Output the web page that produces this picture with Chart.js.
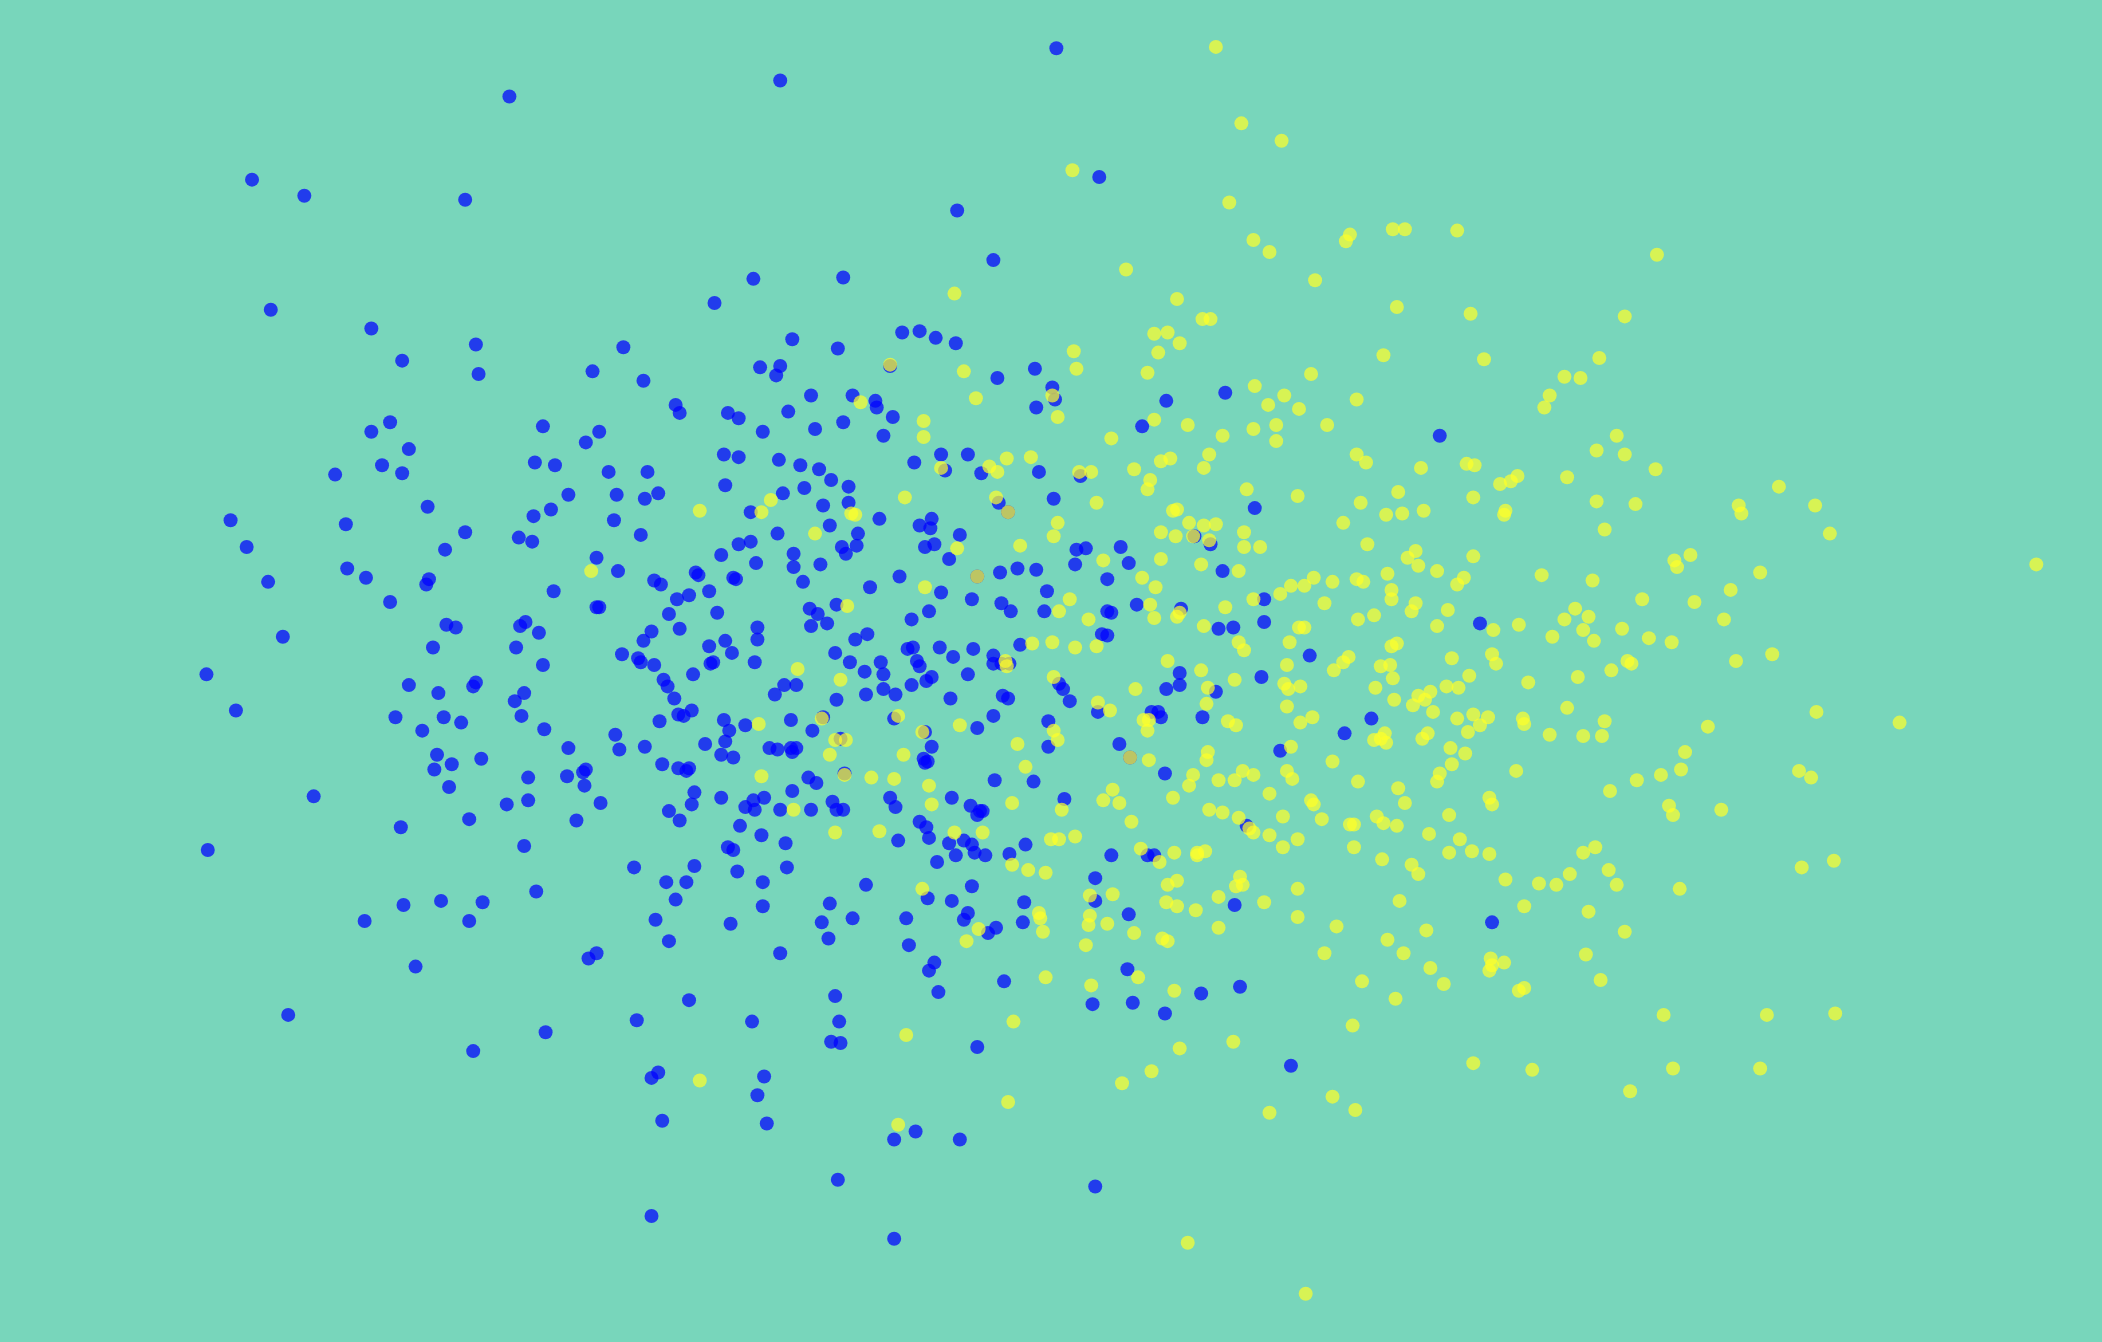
<!DOCTYPE html>
<html>
<head>
<meta charset="utf-8">
<title>Scatter</title>
<script src="https://cdn.jsdelivr.net/npm/chart.js@4"></script>
<style>
  html, body { margin: 0; padding: 0; background: #78d6bb; }
  /* the reference looks upscaled, edges are a bit soft */
  canvas { display: block; filter: blur(0.7px); }
</style>
</head>
<body>
<canvas id="grafica" width="2102" height="1342"></canvas>
<script>
// values, axes are hidden so the unit is arbitrary
const rangoX = [0, 1568];
const rangoY = [0, 1001];

const azules = [
[788,36],[582,60],[380,72],[188,134],[227,146],[347,149],[820,132],[714,157],[741,194],[562,208],[629,207],[533,226],[202,231],[277,245],[355,257],[300,269],[357,279],[465,259],[442,277],[480,284],[591,253],[625,260],[673,248],[686,247],[698,252],[713,256],[567,274],[582,273],[579,280],[664,273],[744,282],[772,275],[785,289],[787,298],[773,304],[870,299],[914,293],[605,295],[636,295],[653,299],[654,304],[666,311],[504,302],[507,308],[543,308],[551,312],[588,307],[629,315],[569,322],[608,320],[659,325],[852,318],[1074,325],[277,322],[291,315],[305,335],[405,318],[447,322],[437,330],[285,347],[300,353],[250,354],[399,345],[414,347],[454,352],[483,352],[540,339],[551,341],[581,343],[597,347],[611,350],[620,358],[633,363],[682,345],[702,339],[705,351],[722,339],[732,353],[775,352],[806,355],[541,362],[584,368],[600,364],[424,369],[460,369],[481,372],[491,368],[319,378],[398,385],[411,380],[458,388],[560,382],[614,377],[633,375],[656,387],[686,392],[695,387],[694,394],[745,375],[786,372],[752,382],[936,379],[172,388],[258,391],[347,397],[387,401],[397,404],[478,399],[580,398],[619,392],[640,398],[639,407],[690,408],[697,406],[716,399],[184,408],[332,410],[445,416],[551,406],[560,404],[538,414],[592,413],[628,408],[631,413],[612,421],[592,423],[564,420],[461,426],[708,417],[803,410],[810,409],[836,408],[802,421],[842,420],[891,400],[903,406],[259,424],[273,431],[200,434],[320,432],[318,436],[413,441],[488,433],[493,436],[519,427],[521,429],[547,431],[549,432],[599,434],[649,438],[671,430],[702,442],[729,430],[746,427],[759,424],[773,425],[781,441],[826,432],[912,426],[291,449],[447,453],[445,453],[505,447],[514,444],[529,441],[624,451],[604,454],[610,458],[693,456],[725,447],[747,450],[754,456],[779,456],[829,457],[826,456],[848,451],[881,454],[943,447],
[333,466],[340,468],[388,467],[392,464],[402,472],[211,475],[486,471],[499,458],[507,469],[535,457],[565,468],[565,477],[541,478],[480,478],[647,473],[638,477],[617,465],[605,467],[680,462],[741,489],[822,473],[826,474],[909,469],[920,468],[943,464],[1104,465],[761,481],
[323,483],[385,483],[464,488],[476,491],[478,494],[488,496],[405,496],[529,482],[546,487],[532,494],[530,495],[563,494],[623,487],[634,494],[645,501],[657,494],[659,503],[677,484],[681,483],[701,483],[684,493],[686,497],[711,490],[726,484],[741,495],[977,489],[753,495],
[154,503],[305,511],[353,512],[355,509],[495,507],[498,512],[517,503],[585,511],[594,511],[578,518],[659,514],[646,518],[668,518],[695,505],[691,508],[680,511],[722,503],[747,495],[790,510],[793,514],[941,505],[907,516],[880,502],[880,511],[870,514],[327,517],[391,517],[384,523],[503,521],
[176,530],[295,535],[331,535],[344,539],[389,534],[510,534],[516,530],[506,533],[492,538],[540,537],[556,541],[624,522],[590,537],[614,535],[667,536],[709,521],[748,519],[752,521],[741,534],[782,538],[798,523],[819,531],[859,531],[864,531],[866,535],[897,535],[1023,536],
[315,545],[406,544],[424,558],[459,548],[462,559],[481,557],[526,555],[541,553],[544,545],[580,559],[574,558],[590,558],[606,545],[627,551],[690,546],[695,557],[689,566],[690,569],[729,543],[782,557],[835,555],[955,560],[1003,547],
[326,563],[324,574],[337,570],[359,566],[437,574],[435,576],[423,579],[494,570],[506,573],[514,573],[512,575],[538,563],[547,565],[591,561],[594,558],[603,580],[609,584],[630,577],[692,568],[742,582],[771,583],[869,577],[843,565],
[335,587],[394,580],[436,586],[394,597],[378,600],[234,594],[448,599],[518,591],[516,600],[538,595],[562,597],[570,595],[591,590],[605,604],[621,598],[664,595],[668,602],[710,595],[724,601],[733,605],[794,596],
[499,605],[507,612],[350,611],[430,612],[299,617],[582,604],[563,604],[556,602],[552,616],[624,604],[629,604],[568,623],[586,629],[670,627],[686,613],[691,617],[729,608],[693,625],[731,605],[930,616],
[391,631],[155,634],[473,647],[543,632],[547,634],[518,646],[550,650],[587,647],[708,629],[719,627],[725,630],[713,638],[727,636],[699,643],[735,638],[753,637],[765,630],[829,638],[856,638],[861,638],
[497,658],[512,658],[569,658],[646,660],[504,671],[400,665],[329,672],[301,675],[360,673],[619,674],[569,676],[692,670],[710,672],[725,661],[764,673],[817,655],[817,672],[842,682],[921,675],
[272,687],[350,687],[489,686],[545,689],[613,688],[636,685],[676,685],[722,681],[719,686],[743,692],[737,696],[763,688],[618,700],[499,702],[678,705],[582,711],[445,711],[439,715],[310,721],[1113,688],
[697,718],[693,724],[841,723],[749,732],[700,740],[896,741],[925,736],[815,749],[845,748],[623,743],[514,746],[215,757],[475,761],[561,762],[626,762],[869,756],[407,770],[620,777],[627,778],[729,781],[353,784],[963,795],[491,800],[486,804],[570,803],[565,817],[494,836],[572,838],[667,850],[683,844],[716,850],[625,880],[817,885],[486,907],[667,924]
];

const amarillos = [
[907,35],[926,92],[956,105],[800,127],[917,151],[935,179],[947,188],[1004,180],[1007,175],[1039,171],[1048,171],[1087,172],[1236,190],[840,201],[981,209],[712,219],[878,223],[1042,229],[1097,234],[1212,236],[897,238],[903,238],[861,249],[871,248],[880,256],[864,263],[801,262],[803,275],[856,278],[1032,265],[1107,268],[1193,267],[1167,281],[1179,282],[978,279],[719,277],[664,272],[936,288],[958,295],[946,302],[969,305],[1012,298],[1156,295],[1152,304],[728,297],[642,300],[689,314],[785,295],[789,311],[861,313],[886,317],[935,320],[952,317],[952,329],[912,325],[990,317],[829,327],[689,326],[1206,325],[1191,336],[1212,339],[1235,350],[1012,339],[1019,345],[902,339],[866,344],[873,342],[846,350],[898,349],[751,342],[769,341],[738,348],[744,352],[702,349],[1094,346],[1100,347],[1060,349],[1132,355],[1127,359],[1119,361],[1169,356],[814,352],[805,352],[858,358],[856,365],[930,365],[968,370],[1043,367],[1099,371],[1191,374],[1220,376],[1327,363],[1297,377],[1354,377],[1299,383],[675,371],[743,371],[818,375],[575,373],[568,382],[522,381],[638,384],[635,383],[752,382],[875,381],[878,380],[1015,375],[1034,384],[1046,383],[1062,381],[1122,384],[1123,381],[789,390],[887,390],[898,392],[907,391],[1002,390],[1197,395],[1365,398],[608,398],[786,400],[866,397],[877,400],[890,400],[902,403],[928,397],[928,408],[940,408],[1020,406],[761,407],[714,409],[1099,415],[1056,411],[1050,416],[1058,422],[1261,414],[1249,418],[1251,423],[1519,421],[823,418],[866,417],[896,421],[924,426],[1035,428],[1072,426],[1092,431],[1087,436],[1150,429],[1188,433],[1313,427],[441,426],[729,430],[852,431],[862,438],[963,437],[955,443],[973,437],[980,431],[994,434],[1012,432],[1017,434],[1038,440],[1038,447],[1291,440],[690,438],[798,447],[935,447],[988,450],[1225,447],[1264,449],[632,452],[790,456],[812,462],[858,451],[880,457],[878,460],[914,453],[861,461],[1056,450],[1053,456],[1025,459],[1072,467],[1080,455],[1013,462],[969,468],[973,468],[1175,454],[1185,460],[1167,462],[1181,470],[1133,466],[1114,470],[1286,462],[1210,469],[1158,475],[1189,478],[1230,476],[1247,479],[802,483],[818,482],[898,467],[924,479],[928,485],[962,479],[1006,490],[1002,494],[1042,480],[1038,482],[1083,491],[1113,488],[1116,495],[1214,493],[1217,495],[1295,493],[1322,488],[785,479],[770,480],[595,499],[750,493],[751,497],[871,493],[896,500],[921,507],[960,496],[995,500],[1030,497],[1037,496],[1096,504],[1140,509],[1177,505],[1202,500],[786,505],[627,507],[847,514],[901,513],[958,510],[961,514],[970,512],[1026,513],[1039,506],[1079,512],[1088,513],[1058,519],[1067,516],[1063,522],[1054,526],[1040,522],[900,525],[819,524],[960,527],[1069,531],[1099,533],[1104,541],[1087,536],[1110,535],[1169,528],[1355,531],[828,530],[853,537],[857,537],[856,545],[922,541],[916,538],[979,535],[970,539],[1136,536],[1137,540],[1197,538],[566,540],[670,534],[688,546],[716,541],[613,536],[786,545],[789,552],[1095,546],[1033,547],[1030,551],[1025,552],[1034,554],[1065,547],[1061,551],[1156,548],[1181,549],[1195,549],[1274,542],[1417,539],[623,552],[631,552],[759,555],[901,561],[619,563],[674,563],[857,567],[900,567],[963,557],[1093,562],[1082,558],[994,568],[1257,561],[765,572],[843,565],[927,575],[935,578],[960,575],[964,581],[1083,570],[1131,575],[1074,577],[1072,583],[1254,574],[1239,578],[1342,575],[1351,580],[568,579],[630,578],[650,580],[667,581],[693,586],[830,589],[875,595],[887,586],[890,578],[909,582],[921,582],[947,592],[1013,583],[1043,588],[1221,582],[1201,590],[695,600],[755,599],[823,597],[835,599],[978,597],[980,600],[1048,599],[1111,595],[1113,600],[1245,601],[1284,604],[1248,608],[592,604],[792,604],[844,613],[902,604],[912,606],[924,610],[957,609],[986,611],[1007,615],[1010,615],[1027,609],[1032,614],[1042,616],[1081,608],[623,621],[656,620],[712,621],[733,621],[784,626],[790,626],[802,624],[932,618],[935,621],[947,623],[968,626],[957,632],[1010,632],[1066,622],[1089,626],[851,633],[876,636],[893,636],[899,635],[893,638],[865,643],[1031,641],[1081,636],[1098,635],[1111,637],[1181,636],[1190,632],[1368,642],[1344,647],[755,645],[767,649],[780,651],[1053,645],[1058,652],[1200,649],[1171,652],[1123,656],[878,657],[871,660],[688,663],[925,654],[922,661],[927,660],[968,663],[1148,659],[1161,660],[1206,660],[1253,663],[813,668],[830,667],[870,673],[878,676],[892,679],[909,669],[943,673],[1044,672],[1137,676],[1185,680],[775,681],[776,685],[813,683],[812,690],[826,689],[968,684],[730,693],[778,695],[846,696],[909,692],[997,691],[1064,694],[1212,695],[721,702],[810,705],[867,700],[871,702],[1035,701],[1047,711],[988,711],[1183,712],[1112,715],[1113,720],[1122,718],[1111,724],[1067,722],[780,729],[849,729],[1194,731],[814,735],[876,739],[1016,732],[1077,734],[1137,737],[1133,739],[1041,745],[756,762],[1241,757],[1318,757],[1369,756],[1009,765],[676,772],[920,777],[880,782],[1099,793],[859,799],[1143,798],[1248,797],[1313,797],[522,806],[837,808],[1216,814],[752,822],[994,818],[947,830],[1011,828],[670,839],[886,927],[974,965]
];

const aPuntos = lista => lista.map(p => ({ x: p[0], y: p[1] }));

const ctx = document.getElementById('grafica').getContext('2d');

new Chart(ctx, {
    type: 'scatter',
    data: {
        datasets: [
            {
                label: 'azul',
                data: aPuntos(azules),
                backgroundColor: 'rgba(0,0,255,0.72)',
                pointRadius: 7,
                borderWidth: 0,
                order: 2
            },
            {
                // lower order is painted on top, yellow goes over blue
                label: 'amarillo',
                data: aPuntos(amarillos),
                backgroundColor: 'rgba(255,255,40,0.7)',
                pointRadius: 7,
                borderWidth: 0,
                order: 1
            }
        ]
    },
    options: {
        responsive: false,
        animation: false,
        layout: { autoPadding: false, padding: 0 },
        plugins: { legend: { display: false }, tooltip: { enabled: false } },
        scales: {
            x: { display: false, min: rangoX[0], max: rangoX[1] },
            y: { display: false, min: rangoY[0], max: rangoY[1], reverse: true }
        }
    }
});
</script>
</body>
</html>
